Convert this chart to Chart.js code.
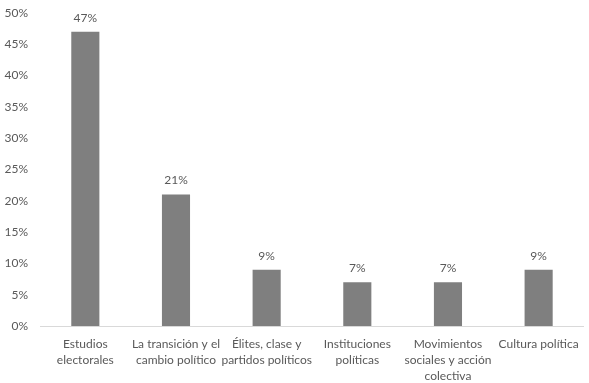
<!DOCTYPE html>
<html>
<head>
<meta charset="utf-8">
<script src="https://cdn.jsdelivr.net/npm/chart.js@4/dist/chart.umd.min.js"></script>
<style>
  html, body { margin: 0; padding: 0; background: #fff; }
  #wrap { width: 589px; height: 383px; }
</style>
</head>
<body>
<div id="wrap"><canvas id="chart" width="589" height="383"></canvas></div>
<script>
// Data
const categories = [
  ['Estudios', 'electorales'],
  ['La transición y el', 'cambio político'],
  ['Élites, clase y', 'partidos políticos'],
  ['Instituciones', 'políticas'],
  ['Movimientos', 'sociales y acción', 'colectiva'],
  ['Cultura política']
];
const shares = [47, 21, 9, 7, 7, 9];
const yTicks = [0, 5, 10, 15, 20, 25, 30, 35, 40, 45, 50];

const FONT = "Lato, 'Open Sans', sans-serif";

// value labels above each bar
const barLabels = {
  id: 'barLabels',
  afterDatasetsDraw(chart) {
    const ctx = chart.ctx;
    const meta = chart.getDatasetMeta(0);
    ctx.save();
    ctx.font = '12px ' + FONT;
    ctx.fillStyle = '#595959';
    ctx.textAlign = 'center';
    ctx.textBaseline = 'bottom';
    meta.data.forEach((bar, i) => {
      ctx.fillText(shares[i] + '%', bar.x, bar.y - 8);
    });
    ctx.restore();
  }
};

new Chart(document.getElementById('chart'), {
  type: 'bar',
  data: {
    labels: categories,
    datasets: [{
      data: shares,
      backgroundColor: '#7f7f7f',
      barPercentage: 0.62,
      categoryPercentage: 0.5
    }]
  },
  options: {
    responsive: false,
    animation: false,
    layout: { padding: { top: 13, right: 4, left: 0, bottom: 0 } },
    plugins: { legend: { display: false }, tooltip: { enabled: false } },
    scales: {
      x: {
        grid: { display: false, drawTicks: false },
        border: { color: '#d9d9d9', width: 1 },
        ticks: {
          color: '#595959',
          font: { family: FONT, size: 12, lineHeight: 1.33 },
          maxRotation: 0,
          autoSkip: false,
          padding: 10
        },
        afterFit(scale) { scale.height = 57; }
      },
      y: {
        min: 0,
        max: 50,
        afterBuildTicks(scale) { scale.ticks = yTicks.map(v => ({ value: v })); },
        grid: { display: false, drawTicks: false },
        border: { display: false },
        ticks: {
          color: '#595959',
          font: { family: FONT, size: 12 },
          padding: 12,
          callback: v => v + '%'
        },
        afterFit(scale) { scale.width = 40; scale.paddingTop = 0; scale.paddingBottom = 0; }
      }
    }
  },
  plugins: [barLabels]
});
</script>
</body>
</html>
